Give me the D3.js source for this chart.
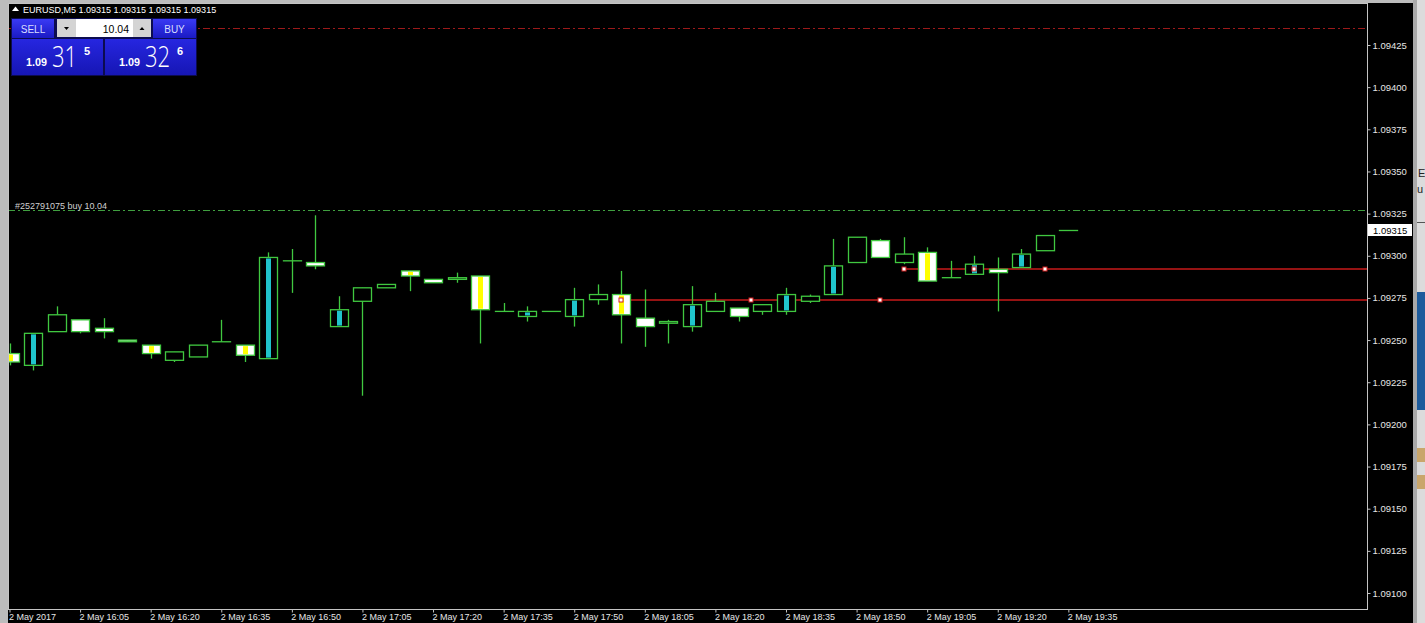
<!DOCTYPE html>
<html>
<head>
<meta charset="utf-8">
<script src="https://cdn.jsdelivr.net/npm/d3@7"></script>
<style>
  body { margin: 0; background: #000; overflow: hidden; }
  svg { display: block; font-family: "Liberation Sans", Arial, sans-serif; }
</style>
</head>
<body>
<svg id="chart" width="1425" height="623"></svg>
<script>
// EURUSD M5, 2 May 2017 15:50 .. 19:35
var opens  = [1.09242,1.09235,1.09255,1.09262,1.09257,1.09250,1.09247,1.09238,1.09240,1.09249,
              1.09247,1.09239,1.09297,1.09296,1.09258,1.09273,1.09281,1.09291,1.09286,1.09286,
              1.09288,1.09267,1.09264,1.09267,1.09264,1.09274,1.09277,1.09263,1.09260,1.09258,
              1.09267,1.09269,1.09267,1.09267,1.09273,1.09277,1.09296,1.09309,1.09296,1.09302,
              1.09287,1.09289,1.09292,1.09293,1.09303,1.09315];
var highs  = [1.09248,1.09254,1.09270,1.09262,1.09263,1.09250,1.09247,1.09243,1.09247,1.09262,
              1.09247,1.09302,1.09304,1.09324,1.09276,1.09281,1.09283,1.09291,1.09286,1.09290,
              1.09288,1.09272,1.09270,1.09267,1.09281,1.09283,1.09291,1.09280,1.09262,1.09282,
              1.09278,1.09269,1.09271,1.09281,1.09277,1.09310,1.09311,1.09310,1.09311,1.09305,
              1.09297,1.09300,1.09299,1.09304,1.09312,1.09315];
var lows   = [1.09235,1.09232,1.09255,1.09254,1.09251,1.09249,1.09239,1.09237,1.09240,1.09249,
              1.09237,1.09239,1.09278,1.09292,1.09258,1.09217,1.09281,1.09279,1.09284,1.09284,
              1.09248,1.09267,1.09261,1.09267,1.09258,1.09271,1.09248,1.09246,1.09248,1.09255,
              1.09267,1.09261,1.09265,1.09265,1.09272,1.09277,1.09296,1.09299,1.09295,1.09285,
              1.09287,1.09289,1.09267,1.09293,1.09303,1.09315];
var closes = [1.09237,1.09254,1.09265,1.09255,1.09255,1.09249,1.09242,1.09243,1.09247,1.09249,
              1.09241,1.09299,1.09297,1.09294,1.09268,1.09281,1.09283,1.09288,1.09284,1.09287,
              1.09268,1.09267,1.09267,1.09267,1.09274,1.09277,1.09265,1.09258,1.09261,1.09271,
              1.09273,1.09264,1.09271,1.09277,1.09276,1.09294,1.09311,1.09299,1.09301,1.09285,
              1.09287,1.09295,1.09290,1.09301,1.09312,1.09315];
// bars marked by the histogram indicator inside the body
var markedBars = [0,1,6,10,11,14,17,20,22,24,26,29,33,35,39,41,43];

var timeLabels = ["2 May 2017","2 May 16:05","2 May 16:20","2 May 16:35","2 May 16:50","2 May 17:05",
                  "2 May 17:20","2 May 17:35","2 May 17:50","2 May 18:05","2 May 18:20","2 May 18:35",
                  "2 May 18:50","2 May 19:05","2 May 19:20","2 May 19:35"];
var priceTicks = [1.09100,1.09125,1.09150,1.09175,1.09200,1.09225,1.09250,1.09275,1.09300,
                  1.09325,1.09350,1.09375,1.09400,1.09425];

var bidPrice = 1.09315;
var orderPrice = 1.09327;
var upperLevel = 1.09435;
// trade arrows: [bar index, price]
var tradeMarks = [[26,1.09274],[31.5,1.09274],[37,1.09274],[38,1.09292],[41,1.09292],[44,1.09292]];
var tradeLines = [[26,1.09274],[38,1.09292]];

var svg = d3.select('#chart');
var plotL = 8, plotR = 1367, plotT = 3, plotB = 609;

var x = d3.scaleLinear().domain([0, 45]).range([9.5, 9.5 + 45 * 23.53]);
var y = d3.scaleLinear().domain([1.091, 1.09425]).range([593, 45]);

var defs = svg.append('defs');

// window chrome
svg.append('rect').attr('x', 0).attr('y', 0).attr('width', 1425).attr('height', 623).attr('fill', '#000');
svg.append('rect').attr('x', 0).attr('y', 0).attr('width', 8).attr('height', 623).attr('fill', '#bcbcbc');
svg.append('rect').attr('x', 0).attr('y', 0).attr('width', 1413).attr('height', 3).attr('fill', '#bcbcbc');
svg.append('rect').attr('x', 1413).attr('y', 0).attr('width', 12).attr('height', 623).attr('fill', '#a9a9a9');
svg.append('rect').attr('x', 1417).attr('y', 0).attr('width', 8).attr('height', 623).attr('fill', '#dcdcdc');
svg.append('rect').attr('x', 1417).attr('y', 292).attr('width', 8).attr('height', 118).attr('fill', '#1d5b9c');
svg.append('rect').attr('x', 1417).attr('y', 222).attr('width', 8).attr('height', 1).attr('fill', '#555');
svg.append('rect').attr('x', 1417).attr('y', 448).attr('width', 8).attr('height', 14).attr('fill', '#c9a66b');
svg.append('rect').attr('x', 1417).attr('y', 475).attr('width', 8).attr('height', 14).attr('fill', '#c9a66b');
svg.append('text').attr('x', 1418).attr('y', 177).attr('font-size', 11).attr('fill', '#222').text('E');
svg.append('text').attr('x', 1417).attr('y', 193).attr('font-size', 11).attr('fill', '#222').text('u');

defs.append('clipPath').attr('id', 'plot')
  .append('rect').attr('x', plotL + 1).attr('y', plotT + 1).attr('width', plotR - plotL - 1).attr('height', plotB - plotT - 1);

var plot = svg.append('g').attr('clip-path', 'url(#plot)');

// level lines
plot.append('line').attr('x1', plotL).attr('x2', plotR).attr('y1', Math.round(y(upperLevel)) + 0.5).attr('y2', Math.round(y(upperLevel)) + 0.5)
  .attr('stroke', '#9c1a1a').attr('stroke-dasharray', '7,3,2,3');
plot.append('line').attr('x1', plotL).attr('x2', plotR).attr('y1', Math.round(y(orderPrice)) + 0.5).attr('y2', Math.round(y(orderPrice)) + 0.5)
  .attr('stroke', '#3f9f3f').attr('stroke-dasharray', '7,3,2,3');
plot.append('text').attr('x', 15).attr('y', Math.round(y(orderPrice)) - 1).attr('font-size', 9).attr('fill', '#d0d0d0')
  .text('#252791075 buy 10.04');

plot.selectAll('line.trade').data(tradeLines).enter().append('line').attr('class', 'trade')
  .attr('x1', function(d) { return x(d[0]); }).attr('x2', plotR)
  .attr('y1', function(d) { return Math.round(y(d[1])); }).attr('y2', function(d) { return Math.round(y(d[1])); })
  .attr('stroke', '#c81a1a').attr('stroke-width', 1.5);

var idx = d3.range(opens.length);
var green = '#40c840';
var bw = 18;

// wicks
plot.selectAll('line.wick').data(idx).enter().append('line').attr('class', 'wick')
  .attr('x1', function(i) { return Math.round(x(i)) + 0.5; }).attr('x2', function(i) { return Math.round(x(i)) + 0.5; })
  .attr('y1', function(i) { return y(highs[i]); }).attr('y2', function(i) { return y(lows[i]); })
  .attr('stroke', green).attr('stroke-width', 1.3);

// bodies
plot.selectAll('rect.body').data(idx).enter().append('rect').attr('class', 'body')
  .attr('x', function(i) { return Math.round(x(i)) - bw / 2 + 0.5; })
  .attr('y', function(i) { return y(Math.max(opens[i], closes[i])); })
  .attr('width', bw)
  .attr('height', function(i) { return Math.max(0.01, Math.abs(y(opens[i]) - y(closes[i]))); })
  .attr('fill', function(i) { return closes[i] < opens[i] ? '#ffffff' : '#000000'; })
  .attr('stroke', green).attr('stroke-width', 1.3);

// indicator bars inside bodies
plot.selectAll('rect.mark').data(markedBars).enter().append('rect').attr('class', 'mark')
  .attr('x', function(i) { return Math.round(x(i)) - 2; })
  .attr('y', function(i) { return y(Math.max(opens[i], closes[i])) + 1; })
  .attr('width', 5)
  .attr('height', function(i) { return Math.max(1, Math.abs(y(opens[i]) - y(closes[i])) - 2); })
  .attr('fill', function(i) { return closes[i] < opens[i] ? '#ffff00' : '#20c4cc'; });

// trade markers
plot.selectAll('rect.tm').data(tradeMarks).enter().append('rect').attr('class', 'tm')
  .attr('x', function(d) { return Math.round(x(d[0])) - 2; })
  .attr('y', function(d) { return Math.round(y(d[1])) - 2; })
  .attr('width', 4).attr('height', 4)
  .attr('fill', '#fff').attr('stroke', '#d02020').attr('stroke-width', 1);

// frame
svg.append('rect').attr('x', plotL + 0.5).attr('y', plotT + 0.5).attr('width', plotR - plotL).attr('height', plotB - plotT)
  .attr('fill', 'none').attr('stroke', '#c4c4c4');

// price axis
var yAxis = d3.axisRight(y).tickValues(priceTicks).tickSize(3).tickFormat(d3.format('.5f'));
var ya = svg.append('g').attr('transform', 'translate(' + (plotR + 0.5) + ',0)').call(yAxis);
ya.select('.domain').remove();
ya.selectAll('line').attr('stroke', '#c4c4c4');
ya.selectAll('text').attr('fill', '#e6e6e6').attr('font-size', 9.5).attr('x', 5)
  .attr('font-family', '"Liberation Sans", Arial, sans-serif');

// bid label
svg.append('rect').attr('x', plotR + 1).attr('y', Math.round(y(bidPrice)) - 6).attr('width', 44).attr('height', 12).attr('fill', '#fff');
svg.append('text').attr('x', plotR + 6).attr('y', Math.round(y(bidPrice)) + 4).attr('font-size', 9.5).attr('fill', '#000')
  .text(d3.format('.5f')(bidPrice));

// time axis
var tickIdx = timeLabels.map(function(d, i) { return i * 3; });
var xAxis = d3.axisBottom(x).tickValues(tickIdx).tickSize(3).tickFormat(function(d, i) { return timeLabels[i]; });
var xa = svg.append('g').attr('transform', 'translate(0,' + (plotB + 0.5) + ')').call(xAxis);
xa.select('.domain').remove();
xa.selectAll('line').attr('stroke', '#c4c4c4');
xa.selectAll('text').attr('fill', '#e6e6e6').attr('font-size', 9).attr('text-anchor', 'start')
  .attr('dx', -1).attr('y', 4).attr('font-family', '"Liberation Sans", Arial, sans-serif');

// header
svg.append('path').attr('d', 'M12,11 L15.5,6.5 L19,11 Z').attr('fill', '#fff');
svg.append('text').attr('x', 23).attr('y', 13).attr('font-size', 9).attr('fill', '#fff')
  .text('EURUSD,M5  1.09315 1.09315 1.09315 1.09315');

// one click trading panel
var grad = defs.append('linearGradient').attr('id', 'blue').attr('x1', 0).attr('y1', 0).attr('x2', 0).attr('y2', 1);
grad.append('stop').attr('offset', '0%').attr('stop-color', '#3a3af4');
grad.append('stop').attr('offset', '100%').attr('stop-color', '#1a1ac4');
var grad2 = defs.append('linearGradient').attr('id', 'blue2').attr('x1', 0).attr('y1', 0).attr('x2', 0).attr('y2', 1);
grad2.append('stop').attr('offset', '0%').attr('stop-color', '#2626e0');
grad2.append('stop').attr('offset', '100%').attr('stop-color', '#1616b4');

var panel = svg.append('g');
panel.append('rect').attr('x', 11).attr('y', 18).attr('width', 186).attr('height', 58).attr('fill', '#0c0c50');
panel.append('rect').attr('x', 12).attr('y', 19).attr('width', 42).attr('height', 19).attr('fill', 'url(#blue)');
panel.append('rect').attr('x', 153).attr('y', 19).attr('width', 43).attr('height', 19).attr('fill', 'url(#blue)');
panel.append('text').attr('x', 33).attr('y', 32.5).attr('text-anchor', 'middle').attr('font-size', 10).attr('fill', '#d8ddff').text('SELL');
panel.append('text').attr('x', 174.5).attr('y', 32.5).attr('text-anchor', 'middle').attr('font-size', 10).attr('fill', '#d8ddff').text('BUY');
panel.append('rect').attr('x', 57).attr('y', 19).attr('width', 94).attr('height', 18).attr('fill', '#d4d4d4');
panel.append('rect').attr('x', 76).attr('y', 19).attr('width', 57).attr('height', 18).attr('fill', '#fff');
panel.append('path').attr('d', 'M64,27 L69,27 L66.5,30 Z').attr('fill', '#000');
panel.append('path').attr('d', 'M139.5,30 L144.5,30 L142,27 Z').attr('fill', '#000');
panel.append('text').attr('x', 129).attr('y', 32.5).attr('text-anchor', 'end').attr('font-size', 10.5).attr('fill', '#000').text('10.04');
panel.append('rect').attr('x', 12).attr('y', 39).attr('width', 91).attr('height', 36).attr('fill', 'url(#blue2)');
panel.append('rect').attr('x', 105).attr('y', 39).attr('width', 91).attr('height', 36).attr('fill', 'url(#blue2)');

var quotes = [['1.09', '31', '5', 26], ['1.09', '32', '6', 119]];
quotes.forEach(function(q) {
  panel.append('text').attr('x', q[3]).attr('y', 66).attr('font-size', 11).attr('font-weight', 'bold').attr('fill', '#fff')
    .attr('textLength', 21).attr('lengthAdjust', 'spacingAndGlyphs').text(q[0]);
  panel.append('text').attr('transform', 'translate(' + (q[3] + 26) + ',67) scale(0.76,1)')
    .attr('font-size', 29).attr('font-family', '"Open Sans", sans-serif')
    .attr('font-weight', 300).attr('fill', '#fff').text(q[1]);
  panel.append('text').attr('x', q[3] + 58).attr('y', 55).attr('font-size', 11).attr('font-weight', 'bold').attr('fill', '#fff').text(q[2]);
});
</script>
</body>
</html>
